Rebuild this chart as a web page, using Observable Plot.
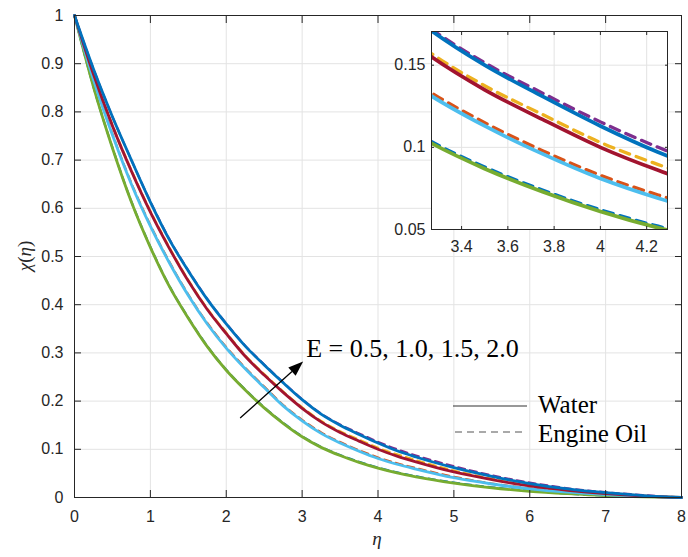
<!DOCTYPE html>
<html><head><meta charset="utf-8">
<script src="https://cdn.jsdelivr.net/npm/d3@7"></script>
<script src="https://cdn.jsdelivr.net/npm/@observablehq/plot@0.6"></script>
<style>
body{margin:0;background:#fff;}
#wrap{position:relative;width:688px;height:557px;overflow:hidden;}
#inset{position:absolute;left:380px;top:25px;}
</style></head><body><div id="wrap"></div>
<script>
// ---- data ----
const eta = [0,0.25,0.5,0.75,1,1.25,1.5,1.75,2,2.25,2.5,2.75,3,3.25,3.5,3.75,4,4.25,4.5,5,5.5,6,6.5,7,7.5,8];
// Water (solid)
const waterE05 = [1,0.852,0.725,0.613,0.519,0.438,0.372,0.313,0.264,0.223,0.186,0.154,0.126,0.104,0.087,0.073,0.061,0.051,0.043,0.030,0.020,0.013,0.008,0.004,0.0015,0];
const waterE10 = [1,0.867,0.752,0.65,0.563,0.487,0.419,0.36,0.31,0.267,0.228,0.19,0.159,0.133,0.113,0.096,0.081,0.069,0.059,0.041,0.028,0.018,0.011,0.006,0.0025,0];
const waterE15 = [1,0.878,0.771,0.677,0.592,0.517,0.449,0.39,0.34,0.293,0.254,0.218,0.185,0.157,0.135,0.117,0.100,0.086,0.074,0.053,0.037,0.024,0.015,0.008,0.003,0];
const waterE20 = [1,0.889,0.79,0.70,0.613,0.535,0.47,0.411,0.36,0.314,0.275,0.238,0.203,0.173,0.150,0.131,0.113,0.097,0.084,0.062,0.044,0.029,0.018,0.010,0.004,0];
// Engine oil (dashed)
const oilE05 = [1,0.852,0.726,0.614,0.520,0.439,0.373,0.314,0.265,0.224,0.187,0.155,0.127,0.105,0.088,0.074,0.062,0.052,0.044,0.031,0.021,0.014,0.008,0.004,0.002,0];
const oilE10 = [1,0.868,0.754,0.652,0.565,0.489,0.421,0.362,0.312,0.269,0.230,0.192,0.161,0.135,0.115,0.098,0.083,0.071,0.061,0.043,0.029,0.019,0.012,0.007,0.003,0];
const oilE15 = [1,0.879,0.773,0.679,0.594,0.519,0.451,0.392,0.342,0.295,0.256,0.220,0.187,0.159,0.1375,0.120,0.103,0.0895,0.0775,0.056,0.039,0.025,0.016,0.009,0.004,0];
const oilE20 = [1,0.889,0.79,0.70,0.614,0.536,0.471,0.412,0.361,0.315,0.276,0.239,0.204,0.174,0.1515,0.133,0.1155,0.100,0.087,0.065,0.046,0.031,0.019,0.011,0.005,0];

const eLabels = ["0.5","1.0","1.5","2.0"];
const waterColors = ["#77AC30","#4DBEEE","#A2142F","#0072BD"];
const oilColors = ["#0072BD","#D95319","#EDB120","#7E2F8E"];
const xTicks = [0,1,2,3,4,5,6,7,8];
const yTicks = [0,0.1,0.2,0.3,0.4,0.5,0.6,0.7,0.8,0.9,1];
const insetXTicks = [3.4,3.6,3.8,4,4.2];
const insetYTicks = [0.05,0.1,0.15];
const legendLabels = ["Water","Engine Oil"];
const annotationText = "E = " + eLabels.join(", ");

// ---- build tables ----
const toRows = (vals) => eta.map((e, i) => ({eta: e, chi: vals[i]}));
const water = [waterE05, waterE10, waterE15, waterE20].map(toRows);
const oil = [oilE05, oilE10, oilE15, oilE20].map(toRows);

const fmt = d3.format("~g");
const axisColor = "#262626";
const gridColor = "#e3e3e3";

function seriesMarks(sw, ow, dash, clip) {
  const m = [];
  oil.forEach((rows, k) => m.push(Plot.line(rows, {x: "eta", y: "chi", stroke: oilColors[k], strokeWidth: ow, strokeDasharray: dash, curve: "monotone-x", clip})));
  water.forEach((rows, k) => m.push(Plot.line(rows, {x: "eta", y: "chi", stroke: waterColors[k], strokeWidth: sw, curve: "monotone-x", clip})));
  return m;
}

const main = Plot.plot({
  width: 688, height: 557,
  marginLeft: 74, marginRight: 7, marginTop: 15, marginBottom: 60,
  style: {fontFamily: "'Liberation Sans', Arial, sans-serif", fontSize: "16px", color: axisColor, background: "white"},
  x: {domain: [0, 8]},
  y: {domain: [0, 1]},
  marks: [
    Plot.gridX(xTicks, {stroke: gridColor, strokeOpacity: 1}),
    Plot.gridY(yTicks, {stroke: gridColor, strokeOpacity: 1}),
    ...seriesMarks(2.8, 2.2, "7,5", false),
    Plot.frame({stroke: axisColor, strokeWidth: 1}),
    Plot.axisX(xTicks, {anchor: "bottom", tickSize: -7, tickPadding: 20, tickFormat: fmt, label: null, stroke: axisColor, fill: axisColor}),
    Plot.axisX(xTicks, {anchor: "top", tickSize: -7, tickFormat: () => "", label: null, stroke: axisColor}),
    Plot.axisY(yTicks, {anchor: "left", tickSize: -7, tickPadding: 18, tickFormat: fmt, label: null, stroke: axisColor, fill: axisColor}),
    Plot.axisY(yTicks, {anchor: "right", tickSize: -7, tickFormat: () => "", label: null, stroke: axisColor})
  ]
});

const wrap = document.getElementById("wrap");
wrap.appendChild(main);

// ---- annotations on the main chart (through its scales) ----
const sx = main.scale("x"), sy = main.scale("y");
const svg = d3.select(main);
const serif = "'Liberation Serif', 'Times New Roman', serif";
const ax1 = sx.apply(2.19), ay1 = sy.apply(0.164), ax2 = sx.apply(3.02), ay2 = sy.apply(0.281);
const ang = Math.atan2(ay2 - ay1, ax2 - ax1);
const hl = 15, hw = 5.5;
const bx = ax2 - hl * Math.cos(ang), by = ay2 - hl * Math.sin(ang);
svg.append("line").attr("x1", ax1).attr("y1", ay1).attr("x2", bx).attr("y2", by).attr("stroke", "#000").attr("stroke-width", 1.3);
svg.append("polygon").attr("fill", "#000").attr("points", [
  [ax2, ay2],
  [bx - hw * Math.sin(ang), by + hw * Math.cos(ang)],
  [bx + hw * Math.sin(ang), by - hw * Math.cos(ang)]
].map(p => p.join(",")).join(" "));
svg.append("text").attr("x", sx.apply(3.06)).attr("y", sy.apply(0.29)).attr("text-anchor", "start")
  .attr("font-family", serif).attr("font-size", 26).attr("fill", "#000")
  .text(annotationText);

// legend
const lg = svg.append("g").attr("font-family", serif).attr("font-size", 25).attr("fill", "#000").attr("text-anchor", "start");
lg.append("line").attr("x1", 453).attr("x2", 527).attr("y1", 406).attr("y2", 406).attr("stroke", "#333").attr("stroke-width", 1.2);
lg.append("line").attr("x1", 455).attr("x2", 527).attr("y1", 432).attr("y2", 432).attr("stroke", "#555").attr("stroke-width", 1.2).attr("stroke-dasharray", "7,5");
lg.append("text").attr("x", 538).attr("y", 413).text(legendLabels[0]);
lg.append("text").attr("x", 538).attr("y", 442).text(legendLabels[1]);

// axis labels
svg.append("text").attr("x", 377).attr("y", 545).attr("text-anchor", "middle")
  .attr("font-family", serif).attr("font-size", 19).attr("font-style", "italic").attr("fill", axisColor).text("η");
const yl = svg.append("text").attr("transform", "translate(31,256) rotate(-90)").attr("text-anchor", "middle")
  .attr("font-family", serif).attr("font-size", 19).attr("fill", axisColor);
yl.append("tspan").attr("font-style", "italic").text("χ");
yl.append("tspan").text("(");
yl.append("tspan").attr("font-style", "italic").text("η");
yl.append("tspan").text(")");

// ---- inset ----
const inset = Plot.plot({
  width: 289, height: 230,
  marginLeft: 51, marginRight: 2, marginTop: 6, marginBottom: 26,
  style: {fontFamily: "'Liberation Sans', Arial, sans-serif", fontSize: "16px", color: axisColor, background: "none"},
  x: {domain: [3.27, 4.29]},
  y: {domain: [0.05, 0.1705]},
  marks: [
    Plot.frame({fill: "white", stroke: "none"}),
    Plot.gridX(insetXTicks, {stroke: gridColor, strokeOpacity: 1}),
    Plot.gridY(insetYTicks, {stroke: gridColor, strokeOpacity: 1}),
    ...seriesMarks(3.7, 3.3, "10,7", true),
    Plot.frame({stroke: axisColor, strokeWidth: 1}),
    Plot.axisX(insetXTicks, {anchor: "bottom", tickSize: -3, tickPadding: 14, tickFormat: fmt, label: null, stroke: axisColor, fill: axisColor}),
    Plot.axisX(insetXTicks, {anchor: "top", tickSize: -3, tickFormat: () => "", label: null, stroke: axisColor}),
    Plot.axisY(insetYTicks, {anchor: "left", tickSize: -3, tickPadding: 9, tickFormat: fmt, label: null, stroke: axisColor, fill: axisColor}),
    Plot.axisY(insetYTicks, {anchor: "right", tickSize: -3, tickFormat: () => "", label: null, stroke: axisColor})
  ]
});
inset.id = "inset";
wrap.appendChild(inset);
</script></body></html>
